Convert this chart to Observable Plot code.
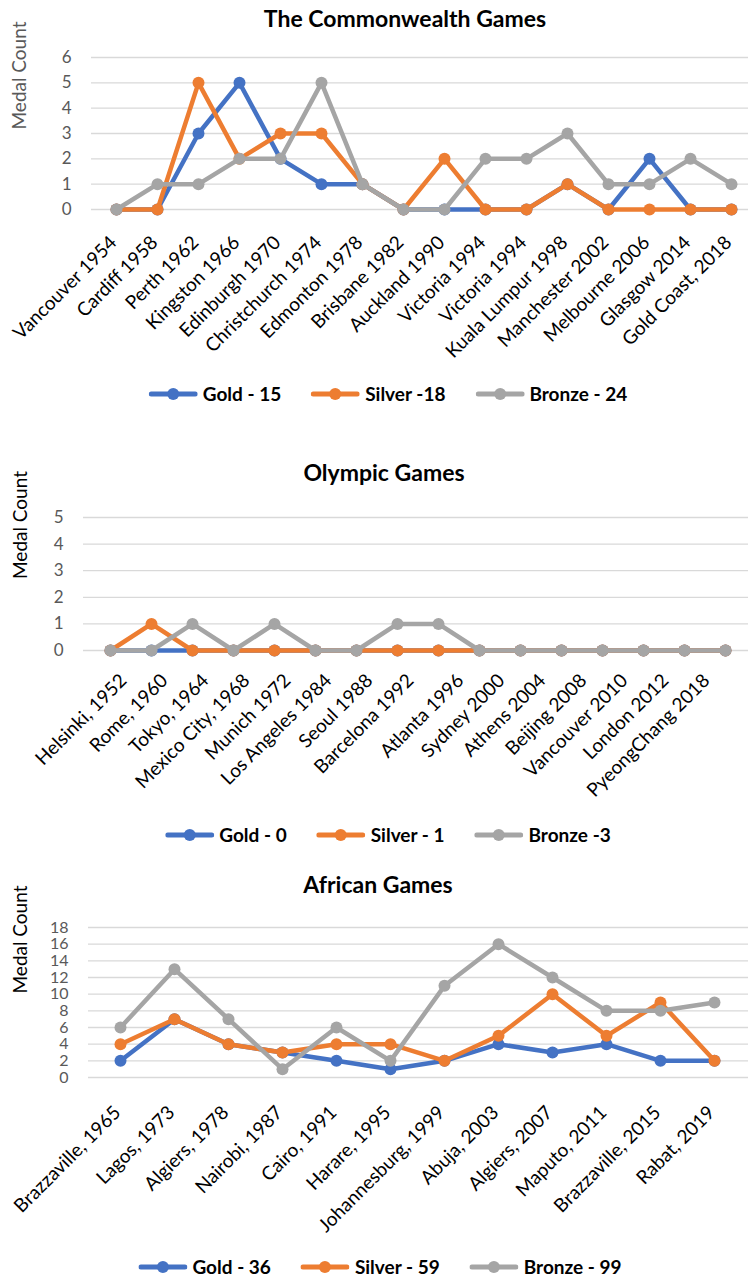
<!DOCTYPE html>
<html><head><meta charset="utf-8">
<script src="https://cdn.jsdelivr.net/npm/d3@7"></script>
<script src="https://cdn.jsdelivr.net/npm/@observablehq/plot@0.6"></script>
<style>
body{margin:0;background:#fff;font-family:Lato,sans-serif}
#page{position:relative;width:748px;height:1279px;overflow:hidden;background:#fff}
.title{position:absolute;transform:translateX(-50%);white-space:nowrap;font-weight:700;font-size:23px;line-height:28px;color:#000}
.legend{position:absolute;transform:translateX(-50%);display:flex;align-items:center;white-space:nowrap;height:24px;font-weight:700;font-size:19px;line-height:24px;color:#000}
.item{display:flex;align-items:center;margin:0 15px}
.item svg{margin-right:5px;display:block}
.chart{position:absolute;left:0}
.chart svg{overflow:visible}
</style></head>
<body><div id="page"></div>
<script>
// ---- Commonwealth Games ----
const cwgCities = ["Vancouver 1954","Cardiff 1958","Perth 1962","Kingston 1966","Edinburgh 1970","Christchurch 1974","Edmonton 1978","Brisbane 1982","Auckland 1990","Victoria 1994","Victoria 1994","Kuala Lumpur 1998","Manchester 2002","Melbourne 2006","Glasgow 2014","Gold Coast, 2018"];
const cwgGold   = [0,0,3,5,2,1,1,0,0,0,0,1,0,2,0,0];
const cwgSilver = [0,0,5,2,3,3,1,0,2,0,0,1,0,0,0,0];
const cwgBronze = [0,1,1,2,2,5,1,0,0,2,2,3,1,1,2,1];
const cwgLegend = ["Gold - 15","Silver -18","Bronze - 24"];
const cwgTicks  = [0,1,2,3,4,5,6];

// ---- Olympic Games ----
const olyCities = ["Helsinki, 1952","Rome, 1960","Tokyo, 1964","Mexico City, 1968","Munich 1972","Los Angeles 1984","Seoul 1988","Barcelona 1992","Atlanta 1996","Sydney 2000","Athens 2004","Beijing 2008","Vancouver 2010","London 2012","PyeongChang 2018",""];
const olyGold   = [0,0,0,0,0,0,0,0,0,0,0,0,0,0,0,0];
const olySilver = [0,1,0,0,0,0,0,0,0,0,0,0,0,0,0,0];
const olyBronze = [0,0,1,0,1,0,0,1,1,0,0,0,0,0,0,0];
const olyLegend = ["Gold - 0","Silver - 1","Bronze -3"];
const olyTicks  = [0,1,2,3,4,5];

// ---- African Games ----
const afrCities = ["Brazzaville, 1965","Lagos, 1973","Algiers, 1978","Nairobi, 1987","Cairo, 1991","Harare, 1995","Johannesburg, 1999","Abuja, 2003","Algiers, 2007","Maputo, 2011","Brazzaville, 2015","Rabat, 2019"];
const afrGold   = [2,7,4,3,2,1,2,4,3,4,2,2];
const afrSilver = [4,7,4,3,4,4,2,5,10,5,9,2];
const afrBronze = [6,13,7,1,6,2,11,16,12,8,8,9];
const afrLegend = ["Gold - 36","Silver - 59","Bronze - 99"];
const afrTicks  = [0,2,4,6,8,10,12,14,16,18];

const colors = ["#4472C4","#ED7D31","#A5A5A5"];
const page = document.getElementById("page");

function addTitle(text, cx, top){
  const d = document.createElement("div");
  d.className = "title"; d.textContent = text;
  d.style.left = cx + "px"; d.style.top = top + "px";
  page.appendChild(d);
}
function addLegend(labels, cx, cy){
  const d = document.createElement("div");
  d.className = "legend";
  d.style.left = cx + "px"; d.style.top = (cy - 12) + "px";
  labels.forEach((lab, k) => {
    const it = document.createElement("div"); it.className = "item";
    it.innerHTML = `<svg width="49" height="14"><line x1="2.5" x2="46.5" y1="7" y2="7" stroke="${colors[k]}" stroke-width="5" stroke-linecap="round"/><circle cx="24.5" cy="7" r="6" fill="${colors[k]}"/></svg><span>${lab}</span>`;
    d.appendChild(it);
  });
  page.appendChild(d);
}
function addChart(cfg){
  const n = cfg.cities.length;
  const idx = d3.range(n);
  const series = [cfg.gold, cfg.silver, cfg.bronze];
  const marks = [
    Plot.gridY(cfg.ticks, {stroke:"#d9d9d9", strokeOpacity:1, strokeWidth:1.3}),
    Plot.axisY(cfg.ticks, {tickSize:0, tickPadding:20, fontSize:cfg.tickFont, fill:"#595959", label:null})
  ];
  // category labels, possibly in groups with their own horizontal offset
  cfg.labelGroups.forEach(g => {
    marks.push(Plot.axisX(idx.filter(i => i >= g.from && i <= g.to), {tickSize:0, tickPadding:cfg.labelDy, dx:g.dx, tickRotate:-45, tickFormat:i => cfg.cities[i] ?? "", fontSize:19, fill:"#000", label:null}));
  });
  series.forEach((vals, k) => {
    marks.push(Plot.line(vals, {x:(d,i) => i, y:d => d, stroke:colors[k], strokeWidth:4.5}));
    marks.push(Plot.dot(vals, {x:(d,i) => i, y:d => d, r:6, fill:colors[k]}));
  });
  marks.push(Plot.text(["Medal Count"], {text:d => d, frameAnchor:"left", rotate:-90, dx:cfg.ylDx, dy:cfg.ylDy, fontSize:19, fill:cfg.ylColor}));
  const svg = Plot.plot({
    width:748, height:cfg.height,
    marginTop:cfg.mt, marginBottom:cfg.mb, marginLeft:cfg.ml, marginRight:0,
    style:{fontFamily:"Lato", background:"transparent", overflow:"visible"},
    x:{type:"point", domain:idx, range:cfg.xRange, padding:0},
    y:{domain:[0, cfg.ticks[cfg.ticks.length-1]]},
    marks
  });
  const wrap = document.createElement("div");
  wrap.className = "chart"; wrap.style.top = cfg.top + "px";
  wrap.appendChild(svg);
  page.appendChild(wrap);
}

addTitle("The Commonwealth Games", 405, 4);
addChart({cities:cwgCities, gold:cwgGold, silver:cwgSilver, bronze:cwgBronze, ticks:cwgTicks, tickFont:17,
  top:40, height:330, mt:17, mb:161, ml:91, xRange:[112,735], labelDy:30,
  labelGroups:[{from:0, to:99, dx:-3}],
  ylDx:-72, ylDy:-4, ylColor:"#595959"});
addLegend(cwgLegend, 388, 394);

addTitle("Olympic Games", 384, 458);
addChart({cities:olyCities, gold:olyGold, silver:olySilver, bronze:olyBronze, ticks:olyTicks, tickFont:17,
  top:500, height:320, mt:17, mb:170, ml:83, xRange:[103,732], labelDy:27,
  labelGroups:[{from:0, to:7, dx:13}, {from:8, to:99, dx:22}],
  ylDx:-63, ylDy:-5, ylColor:"#000"});
addLegend(olyLegend, 388, 835);

addTitle("African Games", 378, 870);
addChart({cities:afrCities, gold:afrGold, silver:afrSilver, bronze:afrBronze, ticks:afrTicks, tickFont:16,
  top:910, height:320, mt:17, mb:153, ml:88, xRange:[115,718], labelDy:32,
  labelGroups:[{from:0, to:99, dx:-3}],
  ylDx:-68, ylDy:-9, ylColor:"#000"});
addLegend(afrLegend, 380, 1267);
</script>
</body></html>
